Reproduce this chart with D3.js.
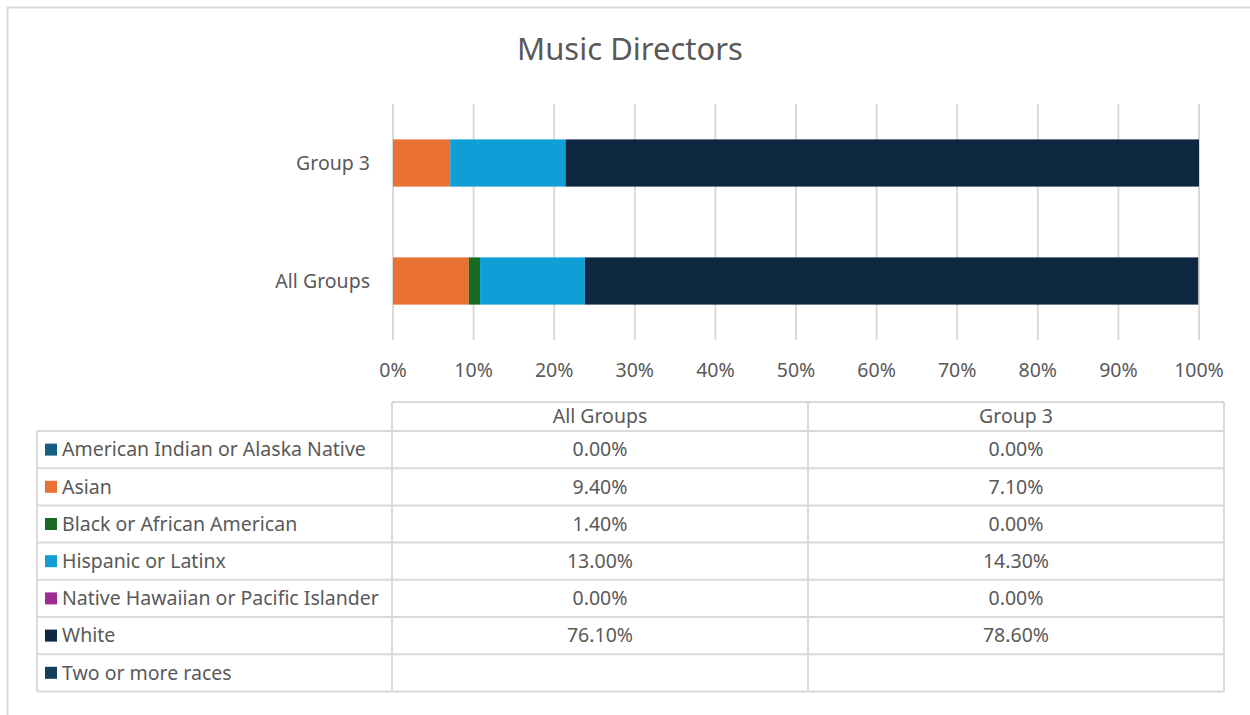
<!DOCTYPE html>
<html>
<head>
<meta charset="utf-8">
<script src="https://cdn.jsdelivr.net/npm/d3@7"></script>
<style>
  body { margin: 0; background: #fff; }
  text { font-family: "Noto Sans", "Open Sans", sans-serif; fill: #595959; }
</style>
</head>
<body>
<div id="chart"></div>
<script>
// chart data
const groups = ['All Groups', 'Group 3']
const races = ['American Indian or Alaska Native', 'Asian', 'Black or African American',
  'Hispanic or Latinx', 'Native Hawaiian or Pacific Islander', 'White', 'Two or more races']
const allGroupsValues = [0.0, 9.4, 1.4, 13.0, 0.0, 76.1, null]
const group3Values = [0.0, 7.1, 0.0, 14.3, 0.0, 78.6, null]
const raceColors = ['#156082', '#E97132', '#196B24', '#0F9ED5', '#A02B93', '#0E2841', '#133F5C']
const tickValues = [0, 10, 20, 30, 40, 50, 60, 70, 80, 90, 100]

const width = 1250
const height = 715
const fontSize = '19.5px'

const svg = d3.select('#chart').append('svg')
    .attr('width', width)
    .attr('height', height)

// outer chart border
svg.append('path')
    .attr('d', `M7.5,${height} V7.5 H${width}`)
    .attr('fill', 'none')
    .attr('stroke', '#d9d9d9')
    .attr('stroke-width', 2)

svg.append('text')
    .attr('x', 630)
    .attr('y', 60)
    .attr('text-anchor', 'middle')
    .style('font-size', '31px')
    .text('Music Directors')

const x = d3.scaleLinear()
    .domain([0, 100])
    .range([393, 1199])

// top bar first
const y = d3.scaleBand()
    .domain(['Group 3', 'All Groups'])
    .range([104, 340])
    .paddingInner(0.6)
    .paddingOuter(0.3)

// gridlines
svg.append('g')
    .selectAll('line')
    .data(tickValues)
    .join('line')
    .attr('x1', d => x(d)).attr('x2', d => x(d))
    .attr('y1', 104).attr('y2', 340)
    .attr('stroke', '#d9d9d9')
    .attr('stroke-width', 2)

// stacked bars
const valuesByGroup = {'All Groups': allGroupsValues, 'Group 3': group3Values}
groups.forEach(g => {
    let acc = 0
    const segs = valuesByGroup[g].map((v, i) => {
        const s = {start: acc, end: acc + (v || 0), i: i}
        acc += (v || 0)
        return s
    }).filter(s => s.end > s.start)

    svg.append('g')
        .selectAll('rect')
        .data(segs)
        .join('rect')
        .attr('x', d => x(d.start))
        .attr('width', d => x(Math.min(d.end, 100)) - x(d.start))
        .attr('y', y(g))
        .attr('height', y.bandwidth())
        .attr('fill', d => raceColors[d.i])
})

// category labels
svg.append('g')
    .selectAll('text')
    .data(y.domain())
    .join('text')
    .attr('x', 370)
    .attr('y', d => y(d) + y.bandwidth() / 2)
    .attr('dy', '0.35em')
    .attr('text-anchor', 'end')
    .style('font-size', fontSize)
    .text(d => d)

// x axis labels
svg.append('g')
    .selectAll('text')
    .data(tickValues)
    .join('text')
    .attr('x', d => x(d))
    .attr('y', 377)
    .attr('text-anchor', 'middle')
    .style('font-size', fontSize)
    .text(d => d + '%')

// data table
const tableTop = 402
const headerH = 29
const rowH = 37.2
const cols = [37, 392, 808, 1224]
const tableBottom = tableTop + headerH + rowH * races.length
const gridColor = '#d9d9d9'
const tbl = svg.append('g')

// horizontal lines
const hLines = [tableTop].concat(d3.range(races.length + 1).map(i => tableTop + headerH + i * rowH))
tbl.selectAll('line.h')
    .data(hLines)
    .join('line')
    .attr('class', 'h')
    .attr('x1', (d, i) => i === 0 ? cols[1] : cols[0])
    .attr('x2', cols[3])
    .attr('y1', d => d).attr('y2', d => d)
    .attr('stroke', gridColor)
    .attr('stroke-width', 2)

// vertical lines
tbl.selectAll('line.v')
    .data(cols)
    .join('line')
    .attr('class', 'v')
    .attr('x1', d => d).attr('x2', d => d)
    .attr('y1', (d, i) => i === 0 ? tableTop + headerH : tableTop)
    .attr('y2', tableBottom)
    .attr('stroke', gridColor)
    .attr('stroke-width', 2)

// header
tbl.selectAll('text.head')
    .data(groups)
    .join('text')
    .attr('class', 'head')
    .attr('x', (d, i) => (cols[i + 1] + cols[i + 2]) / 2)
    .attr('y', tableTop + headerH / 2)
    .attr('dy', '0.35em')
    .attr('text-anchor', 'middle')
    .style('font-size', fontSize)
    .text(d => d)

// legend rows
const rows = tbl.selectAll('g.row')
    .data(races)
    .join('g')
    .attr('class', 'row')
    .attr('transform', (d, i) => `translate(0,${tableTop + headerH + i * rowH + rowH / 2})`)

rows.append('rect')
    .attr('x', 45).attr('y', -6)
    .attr('width', 12).attr('height', 12)
    .attr('fill', (d, i) => raceColors[i])

rows.append('text')
    .attr('x', 62)
    .attr('dy', '0.35em')
    .style('font-size', fontSize)
    .text(d => d)

const fmt = v => v === null ? '' : v.toFixed(2) + '%'
rows.append('text')
    .attr('x', (cols[1] + cols[2]) / 2)
    .attr('dy', '0.35em')
    .attr('text-anchor', 'middle')
    .style('font-size', fontSize)
    .text((d, i) => fmt(allGroupsValues[i]))

rows.append('text')
    .attr('x', (cols[2] + cols[3]) / 2)
    .attr('dy', '0.35em')
    .attr('text-anchor', 'middle')
    .style('font-size', fontSize)
    .text((d, i) => fmt(group3Values[i]))
</script>
</body>
</html>
